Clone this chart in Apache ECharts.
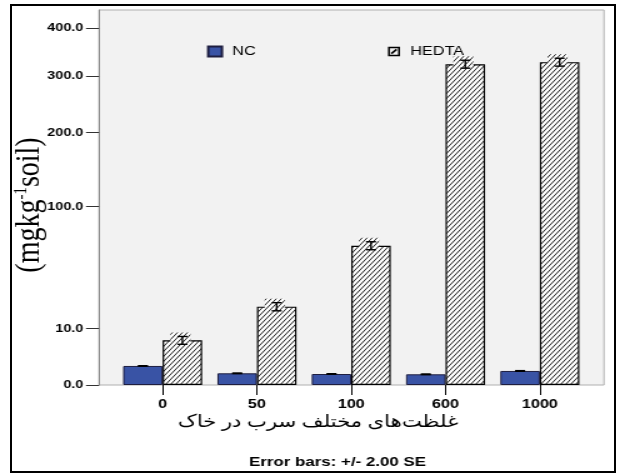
<!DOCTYPE html>
<html>
<head>
<meta charset="utf-8">
<script src="https://cdn.jsdelivr.net/npm/echarts@6/dist/echarts.min.js"></script>
<style>
  html, body { margin: 0; padding: 0; background: #fff; }
  #wrap { position: relative; width: 618px; height: 474px; overflow: hidden; }
  #chart { position: absolute; left: 0; top: 0; height: 474px; transform-origin: 0 0; }
  #frame { position: absolute; left: 10px; top: 4px; width: 606px; height: 469px;
           box-sizing: border-box; border: 2px solid #000; pointer-events: none; }
</style>
</head>
<body>
<div id="wrap"><div id="chart"></div><div id="frame"></div></div>
<script>
// Lead concentration in soil (mg/kg) and extracted amounts per treatment
const categories = ['0', '50', '100', '600', '1000'];
const ncValues = [1.14, 0.43, 0.38, 0.36, 0.62];
const hedtaValues = [6.3, 19.3, 61, 323.5, 327.6];
const ncErr = [0.03, 0.02, 0.02, 0.02, 0.03];
const hedtaErr = [1.1, 2.0, 3.5, 8, 8];
const yTicks = [0, 10, 100, 200, 300, 400];
const yMax = 442;

// horizontal stretch of the whole drawing
const SX = 1.25;
const W = 618 / SX;
const sx = v => v / SX;
const chartEl = document.getElementById('chart');
chartEl.style.width = W + 'px';
chartEl.style.transform = 'scaleX(' + SX + ')';

// square-root value axis
const t = v => Math.sqrt(Math.max(v, 0));

// diagonal hatch tile (4 periods each way)
function hatchCanvas() {
  const w = 16, h = 20, p = w / 4;
  const c = document.createElement('canvas');
  c.width = w; c.height = h;
  const g = c.getContext('2d');
  g.fillStyle = '#fff';
  g.fillRect(0, 0, w, h);
  g.strokeStyle = '#1a1a1a';
  g.lineWidth = 1.0;
  for (let k = -4; k <= 4; k++) {
    g.beginPath();
    g.moveTo(k * p, h);
    g.lineTo(k * p + w, 0);
    g.stroke();
  }
  return c;
}
const hatch = { image: hatchCanvas(), repeat: 'repeat' };

const SANS = '"Liberation Sans", Arial, sans-serif';
const SERIF = '"Liberation Serif", "Times New Roman", "DejaVu Serif", "DejaVu Sans", serif';
const BAR_W = sx(39.5);

function errRender(withHatch, capHalf) {
  return function (params, api) {
    const i = api.value(0);
    const cx = api.coord([i, 0])[0] + (withHatch ? BAR_W / 2 : -BAR_W / 2);
    const yHi = api.coord([i, api.value(2)])[1];
    const yLo = api.coord([i, api.value(3)])[1];
    const children = [];
    if (withHatch) {
      children.push({
        type: 'rect',
        shape: { x: cx - sx(12), y: yHi - 4, width: sx(20), height: (yLo - yHi) + 4 },
        style: { fill: hatch }
      });
    }
    const ls = { stroke: '#000', lineWidth: 1.4 };
    children.push({ type: 'line', shape: { x1: cx, y1: yHi, x2: cx, y2: yLo }, style: ls });
    children.push({ type: 'line', shape: { x1: cx - capHalf, y1: yHi, x2: cx + capHalf, y2: yHi }, style: ls });
    children.push({ type: 'line', shape: { x1: cx - capHalf, y1: yLo, x2: cx + capHalf, y2: yLo }, style: ls });
    return { type: 'group', children };
  };
}

const chart = echarts.init(chartEl, null, { width: W, height: 474 });

chart.setOption({
  animation: false,
  backgroundColor: '#fff',
  grid: { left: sx(115.5), right: sx(31), top: 10, bottom: 89 },
  graphic: [
    {
      type: 'rect', z: -1,
      shape: { x: sx(99), y: 10, width: sx(505), height: 375 },
      style: { fill: '#f2f2f2', stroke: '#b0b0b0', lineWidth: 1 }
    },
    {
      type: 'text', x: 24, y: 205, rotation: Math.PI / 2,
      style: {
        text: '{a|(mgkg}{s|-1}{a|soil)}',
        align: 'center', verticalAlign: 'middle', fill: '#000',
        rich: {
          a: { fontFamily: SERIF, fontSize: 28, fill: '#000', verticalAlign: 'bottom' },
          s: { fontFamily: SERIF, fontSize: 15, fill: '#000', verticalAlign: 'top' }
        }
      }
    },
    {
      type: 'text', x: sx(318), y: 423,
      style: {
        text: 'غلظت\u200cهای مختلف سرب در خاک',
        align: 'center', verticalAlign: 'middle', fill: '#000',
        font: '17px ' + SERIF
      }
    },
    {
      type: 'text', x: sx(337.5), y: 462.5,
      style: {
        text: 'Error bars: +/- 2.00 SE',
        align: 'center', verticalAlign: 'middle', fill: '#000',
        font: 'bold 13.5px ' + SANS
      }
    }
  ],
  legend: [
    {
      data: [{ name: 'NC', icon: 'rect' }],
      left: sx(207), top: 45, padding: 0,
      itemWidth: sx(13.7), itemHeight: 10,
      selectedMode: false,
      textStyle: { fontFamily: SANS, fontSize: 13, color: '#000', padding: [0, 0, 0, sx(4)] }
    },
    {
      data: [{
        name: 'HEDTA',
        icon: 'path://M0,0H10V10H0Z M1.6,1.6V8.4H8.4V1.6Z M2.2,6.6L6.6,2.2L7.8,3.4L3.4,7.8Z',
        itemStyle: { color: '#000', borderWidth: 0 }
      }],
      left: sx(388), top: 45, padding: 0,
      itemWidth: sx(12), itemHeight: 10,
      selectedMode: false,
      textStyle: { fontFamily: SANS, fontSize: 13, color: '#000', padding: [0, 0, 0, sx(4)] }
    }
  ],
  xAxis: {
    type: 'category',
    data: categories,
    axisLine: { show: false },
    axisTick: { show: true, alignWithLabel: true, length: 10, lineStyle: { color: '#000', width: 1 } },
    axisLabel: { fontFamily: SANS, fontWeight: 'bold', fontSize: 13, color: '#000', margin: 13 }
  },
  yAxis: {
    type: 'value',
    min: 0,
    max: t(yMax),
    offset: sx(16.5),
    axisLine: { show: true, lineStyle: { color: '#8a8a8a', width: 1 } },
    axisTick: { show: true, length: sx(13), lineStyle: { color: '#333', width: 1 }, customValues: yTicks.map(t) },
    axisLabel: {
      customValues: yTicks.map(t),
      formatter: v => Math.round(v * v).toFixed(1),
      fontFamily: SANS, fontWeight: 'bold', fontSize: 11.5, color: '#000',
      margin: sx(15.7)
    },
    splitLine: { show: false }
  },
  series: [
    {
      name: 'NC', type: 'bar',
      data: ncValues.map(t),
      barWidth: BAR_W, barGap: '0%',
      itemStyle: { color: '#3953a5', borderColor: '#1e1e40', borderWidth: 1 }
    },
    {
      name: 'HEDTA', type: 'bar',
      data: hedtaValues.map(t),
      barWidth: BAR_W, barGap: '0%',
      itemStyle: { color: hatch, borderColor: '#000', borderWidth: 1.2 }
    },
    {
      type: 'custom', name: 'NC error', z: 3,
      encode: { x: 0, y: [1, 2, 3] },
      data: ncValues.map((v, i) => [i, t(v), t(v + ncErr[i]), t(v - ncErr[i])]),
      renderItem: errRender(false, sx(5))
    },
    {
      type: 'custom', name: 'HEDTA error', z: 3,
      encode: { x: 0, y: [1, 2, 3] },
      data: hedtaValues.map((v, i) => [i, t(v), t(v + hedtaErr[i]), t(v - hedtaErr[i])]),
      renderItem: errRender(true, sx(5))
    }
  ]
});
</script>
</body>
</html>
